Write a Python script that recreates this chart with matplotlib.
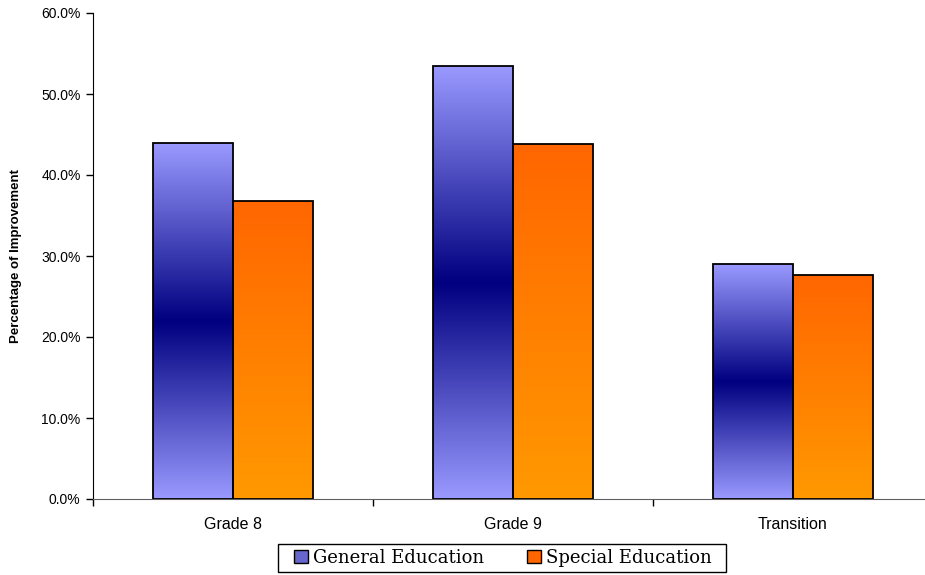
import numpy as np
import matplotlib
matplotlib.use("Agg")
import matplotlib.pyplot as plt
from matplotlib.colors import LinearSegmentedColormap
from matplotlib.patches import Patch, Rectangle

categories = ["Grade 8", "Grade 9", "Transition"]
general_ed = [43.9, 53.4, 29.0]
special_ed = [36.8, 43.8, 27.6]
series_names = ["General Education", "Special Education"]
yticks = [0, 10, 20, 30, 40, 50, 60]

W, H = 925, 575
fig = plt.figure(figsize=(W / 100, H / 100), dpi=100)
ax = fig.add_axes([93 / W, (575 - 499) / H, 840 / W, 486 / H])

bw = 80 / 280
x = np.arange(len(categories))

gen_cmap = LinearSegmentedColormap.from_list(
    "gen", [(0, "#9999FF"), (0.5, "#000080"), (1, "#9999FF")])
spe_cmap = LinearSegmentedColormap.from_list(
    "spe", [(0, "#FF9900"), (1, "#FF6600")])
grad = np.linspace(0, 1, 256).reshape(-1, 1)

def draw_bars(xs, vals, cmap):
    bars = ax.bar(xs, vals, width=bw, align="edge", facecolor="none",
                  edgecolor="black", linewidth=1.3, zorder=3)
    for b in bars:
        x0, w, h = b.get_x(), b.get_width(), b.get_height()
        im = ax.imshow(grad, cmap=cmap, aspect="auto", origin="lower",
                       extent=[x0, x0 + w, 0, h], zorder=2)
        im.set_clip_path(b)
    return bars

draw_bars(x - bw, general_ed, gen_cmap)
draw_bars(x, special_ed, spe_cmap)

ax.set_xlim(-0.5, 2.5)
ax.set_ylim(0, 60)
ax.set_yticks(yticks)
ax.set_yticklabels([f"{v:.1f}%" for v in yticks], fontsize=10,
                   family="Liberation Sans")
ax.set_xticks(x)
ax.set_xticklabels(categories, fontsize=11.5, family="Liberation Sans")
ax.set_xticks(np.arange(-0.5, 3.0, 1.0), minor=True)
ax.tick_params(axis="x", which="major", length=0, pad=13)
ax.tick_params(axis="x", which="minor", length=5, direction="out", width=1)
ax.tick_params(axis="y", length=5, direction="out", width=1, pad=4)
ax.set_ylabel("Percentage of Improvement", fontsize=9.5, fontweight="bold",
              family="Liberation Sans", labelpad=14)
for s in ["top", "right"]:
    ax.spines[s].set_visible(False)
ax.spines["left"].set_color("black")
ax.spines["bottom"].set_color("#606060")

fs = 13
fpx = fs * 100 / 72
handles = [Patch(facecolor="#6666CC", edgecolor="black", label=series_names[0]),
           Patch(facecolor="#FF6600", edgecolor="black", label=series_names[1])]
leg = fig.legend(handles=handles, loc="center", ncol=2,
                 bbox_to_anchor=(503 / W, (575 - 558) / H),
                 prop={"family": "DejaVu Serif", "size": fs},
                 frameon=False,
                 handlelength=14 / fpx, handleheight=14 / fpx,
                 handletextpad=5 / fpx, columnspacing=43 / fpx,
                 borderpad=0.0)
fig.patches.append(Rectangle((278 / W, (575 - 572) / H), 448 / W, 28 / H,
                             transform=fig.transFigure, facecolor="white",
                             edgecolor="black", linewidth=1.0, zorder=0))

fig.savefig("out.png", dpi=100)
